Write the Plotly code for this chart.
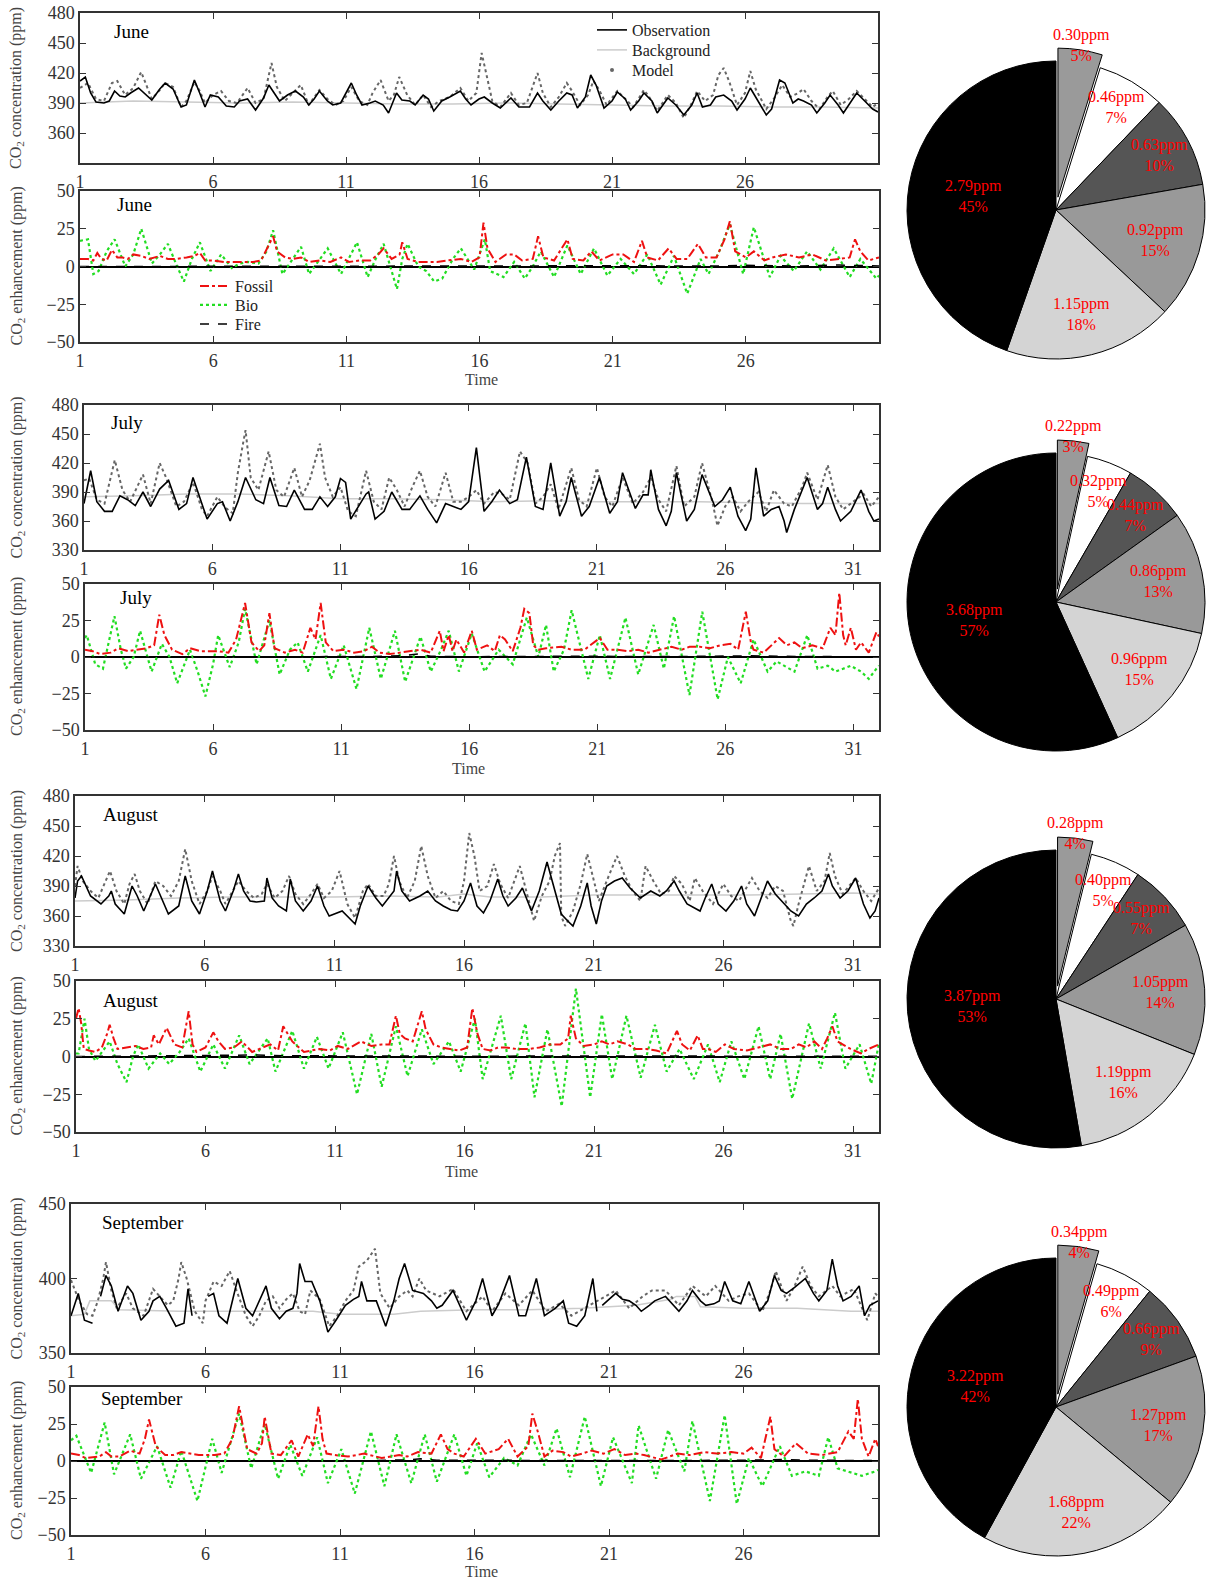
import math
import plotly.graph_objects as go

W, H = 1207, 1583
FONT = "Liberation Serif"

# ---------------- data: [day, value] pairs ----------------
june_obs = [[1.0,412],[1.2,416],[1.4,400],[1.6,391],[1.9,390],[2.1,392],[2.3,402],[2.5,397],[2.7,396],[2.9,400],[3.2,405],[3.5,398],[3.7,393],[4.0,404],[4.2,410],[4.5,404],[4.8,386],[5.0,388],[5.3,413],[5.5,400],[5.7,386],[5.9,398],[6.2,396],[6.5,387],[6.8,386],[7.0,392],[7.3,394],[7.6,383],[7.9,395],[8.1,408],[8.3,400],[8.5,392],[8.8,398],[9.1,402],[9.4,396],[9.6,388],[9.8,394],[10.0,402],[10.3,392],[10.5,388],[10.8,390],[11.2,410],[11.4,398],[11.6,388],[11.9,390],[12.1,392],[12.4,388],[12.6,380],[12.9,400],[13.1,393],[13.4,392],[13.6,388],[13.9,398],[14.1,394],[14.3,382],[14.6,392],[14.9,396],[15.3,402],[15.5,394],[15.7,388],[16.0,394],[16.2,396],[16.5,390],[16.8,385],[17.2,395],[17.5,386],[17.9,386],[18.2,400],[18.4,392],[18.7,383],[19.0,392],[19.3,400],[19.5,398],[19.7,385],[20.0,396],[20.2,418],[20.4,408],[20.7,385],[21.0,392],[21.2,401],[21.5,394],[21.7,383],[22.0,392],[22.2,400],[22.5,392],[22.7,380],[23.1,395],[23.4,388],[23.7,378],[24.0,388],[24.2,400],[24.4,386],[24.7,388],[24.9,396],[25.2,398],[25.5,392],[25.7,383],[26.0,394],[26.2,405],[26.5,392],[26.8,378],[27.0,384],[27.3,413],[27.5,410],[27.8,390],[28.0,394],[28.2,392],[28.5,388],[28.7,380],[29.0,390],[29.2,398],[29.5,388],[29.7,380],[30.0,392],[30.2,400],[30.5,392],[30.8,384],[31.0,381]]
june_mod = [[1.0,405],[1.3,410],[1.6,394],[1.9,392],[2.2,410],[2.4,412],[2.7,398],[3.0,405],[3.3,421],[3.5,408],[3.7,394],[4.0,403],[4.2,410],[4.5,406],[4.8,386],[5.0,392],[5.3,411],[5.5,402],[5.7,390],[6.0,398],[6.3,402],[6.6,392],[6.9,390],[7.3,405],[7.6,390],[7.9,394],[8.1,418],[8.2,430],[8.4,406],[8.7,392],[9.0,400],[9.3,408],[9.6,388],[9.8,396],[10.0,403],[10.3,394],[10.6,388],[10.9,392],[11.2,406],[11.5,392],[11.8,388],[12.0,400],[12.3,413],[12.6,392],[12.8,398],[13.0,416],[13.3,398],[13.6,388],[13.9,398],[14.2,386],[14.5,392],[14.9,396],[15.3,405],[15.6,392],[15.9,400],[16.1,440],[16.3,415],[16.5,392],[16.8,386],[17.2,400],[17.5,388],[17.8,390],[18.2,420],[18.4,400],[18.7,386],[19.0,396],[19.3,410],[19.5,402],[19.8,388],[20.1,398],[20.3,412],[20.5,404],[20.8,388],[21.2,402],[21.5,394],[21.8,386],[22.2,403],[22.4,396],[22.7,382],[23.1,398],[23.4,390],[23.7,375],[24.0,390],[24.2,402],[24.5,392],[24.8,398],[25.0,418],[25.2,425],[25.4,412],[25.7,388],[26.0,400],[26.2,422],[26.4,404],[26.8,384],[27.1,395],[27.4,408],[27.7,396],[28.0,400],[28.2,404],[28.5,392],[28.8,384],[29.1,396],[29.3,402],[29.6,388],[29.9,394],[30.2,402],[30.5,394],[30.8,386],[31.0,390]]
june_bg = [[1,390],[3,392],[5,391],[7,390],[9,391],[11,390],[13,389],[15,389],[17,390],[19,389],[21,388],[23,387],[25,387],[27,386],[29,386],[31,385]]
june_fos = [[1.0,5],[1.3,5],[1.5,4],[1.65,9],[1.8,5],[2.0,4],[2.2,11],[2.4,6],[2.6,6],[2.8,5],[3.0,8],[3.3,7],[3.6,5],[4.0,7],[4.3,5],[4.6,5],[5.0,6],[5.3,7],[5.5,9],[5.7,4],[6.0,4],[6.4,3],[6.8,3],[7.2,3],[7.5,3],[7.8,4],[8.1,14],[8.25,20],[8.4,10],[8.7,6],[9.0,5],[9.3,6],[9.6,3],[10.0,4],[10.4,3],[10.8,6],[11.1,3],[11.5,4],[11.9,4],[12.2,8],[12.4,12],[12.7,5],[13.0,8],[13.1,16],[13.3,5],[13.7,3],[14.0,3],[14.4,3],[14.8,4],[15.3,5],[15.7,3],[16.0,6],[16.15,29],[16.3,12],[16.6,3],[17.0,8],[17.3,8],[17.6,4],[18.0,5],[18.2,20],[18.4,6],[18.8,4],[19.3,18],[19.5,5],[19.9,4],[20.2,10],[20.5,4],[21.0,8],[21.4,8],[21.8,3],[22.1,17],[22.3,6],[22.7,4],[23.1,12],[23.4,5],[23.8,5],[24.2,15],[24.5,6],[24.9,6],[25.2,18],[25.4,30],[25.6,10],[26.0,6],[26.3,10],[26.7,4],[27.0,6],[27.5,8],[28.0,6],[28.5,8],[29.0,4],[29.5,5],[29.9,6],[30.1,18],[30.3,10],[30.6,4],[31.0,6]]
june_bio = [[1.0,17],[1.3,18],[1.5,-5],[1.7,-3],[2.0,10],[2.3,18],[2.7,0],[3.0,8],[3.3,25],[3.7,2],[4.0,8],[4.3,15],[4.6,2],[4.9,-10],[5.2,5],[5.5,16],[5.9,-3],[6.3,8],[6.7,-1],[7.0,2],[7.3,3],[7.7,2],[8.0,10],[8.25,24],[8.6,-5],[8.9,3],[9.3,13],[9.6,-5],[10.0,5],[10.3,12],[10.8,-5],[11.1,5],[11.4,16],[11.8,-7],[12.1,5],[12.4,15],[12.9,-15],[13.1,5],[13.3,15],[13.7,0],[14.0,-3],[14.3,-10],[14.6,-8],[15.0,5],[15.3,12],[15.8,-2],[16.2,18],[16.4,-3],[16.9,-7],[17.3,3],[17.7,-8],[18.0,0],[18.3,10],[18.8,-7],[19.3,14],[19.8,-5],[20.3,12],[20.8,-6],[21.3,5],[21.8,-5],[22.3,8],[22.8,-12],[23.3,7],[23.8,-18],[24.3,5],[24.6,-5],[25.0,10],[25.4,28],[25.9,-5],[26.3,26],[26.9,-7],[27.3,7],[27.8,-3],[28.3,10],[28.8,-2],[29.3,12],[29.9,-7],[30.3,5],[30.9,-8],[31.0,-6]]
june_fire = [[1,0],[5,0.3],[10,0.2],[15,0.3],[20,0.8],[21,0.5],[25,0.3],[26,0.8],[28,0.3],[29.5,1],[31,0.3]]

july_obs = [[1.0,378],[1.15,400],[1.26,412],[1.5,380],[1.8,370],[2.1,370],[2.4,386],[2.7,382],[3.0,376],[3.3,390],[3.6,375],[3.95,393],[4.3,402],[4.7,372],[5.0,378],[5.25,405],[5.5,385],[5.8,362],[6.2,378],[6.4,380],[6.7,360],[7.0,380],[7.3,405],[7.7,382],[8.0,378],[8.25,405],[8.6,376],[8.9,375],[9.2,392],[9.6,372],[9.9,372],[10.2,385],[10.5,375],[10.8,385],[11.0,404],[11.2,400],[11.4,362],[11.7,375],[12.0,388],[12.1,390],[12.35,362],[12.7,370],[13.0,390],[13.4,372],[13.7,372],[14.1,386],[14.4,372],[14.75,358],[15.1,378],[15.4,375],[15.7,372],[16.0,380],[16.3,436],[16.6,370],[16.9,380],[17.2,392],[17.6,378],[17.9,382],[18.25,426],[18.6,375],[18.9,372],[19.2,420],[19.55,365],[19.8,380],[20.0,405],[20.4,365],[20.7,375],[21.1,405],[21.5,368],[21.8,380],[22.0,410],[22.5,373],[22.8,387],[23.0,387],[23.1,413],[23.4,372],[23.7,355],[23.9,370],[24.1,410],[24.5,360],[24.8,372],[25.1,408],[25.6,375],[25.9,382],[26.2,395],[26.5,365],[26.8,350],[27.0,362],[27.2,415],[27.5,365],[27.8,372],[28.1,375],[28.3,360],[28.4,348],[28.7,372],[29.2,405],[29.6,372],[29.8,378],[30.0,395],[30.3,372],[30.5,360],[30.9,370],[31.3,392],[31.6,370],[31.8,360],[32.0,362]]
july_mod = [[1.0,402],[1.2,404],[1.5,382],[1.8,378],[2.2,423],[2.5,392],[2.8,380],[3.1,396],[3.3,408],[3.6,378],[3.95,420],[4.2,405],[4.6,375],[4.9,380],[5.25,400],[5.6,372],[5.8,365],[6.2,385],[6.5,374],[6.8,368],[7.0,410],[7.2,440],[7.3,454],[7.5,405],[7.8,392],[8.2,432],[8.5,392],[8.8,385],[9.2,415],[9.5,385],[9.8,402],[10.2,440],[10.4,405],[10.7,385],[11.0,395],[11.3,370],[11.6,365],[12.0,412],[12.3,380],[12.6,372],[12.9,405],[13.2,392],[13.5,375],[13.8,395],[14.1,412],[14.4,385],[14.7,375],[15.1,410],[15.4,380],[15.7,380],[16.0,385],[16.3,392],[16.6,378],[17.0,390],[17.3,388],[17.6,382],[18.0,432],[18.3,420],[18.6,378],[18.9,385],[19.2,398],[19.5,372],[20.0,415],[20.3,382],[20.6,375],[21.0,415],[21.3,385],[21.6,375],[22.0,405],[22.4,378],[22.8,390],[23.1,405],[23.4,382],[23.7,370],[24.1,417],[24.4,375],[24.8,385],[25.1,420],[25.5,380],[25.7,355],[26.0,375],[26.3,385],[26.6,370],[26.9,380],[27.3,390],[27.6,370],[27.9,392],[28.3,378],[28.6,375],[29.0,395],[29.2,410],[29.6,382],[30.0,418],[30.3,385],[30.6,372],[31.0,380],[31.4,388],[31.7,375],[32.0,385]]
july_bg = [[1,385],[3,386],[5,388],[7,388],[9,386],[11,383],[13,383],[15,382],[17,380],[19,381],[21,380],[23,380],[25,380],[27,379],[29,378],[31,378],[32,378]]
july_fos = [[1.0,5],[1.3,4],[1.6,2],[2.0,3],[2.3,6],[2.7,4],[3.0,5],[3.4,6],[3.7,8],[3.9,29],[4.1,15],[4.4,5],[4.8,2],[5.1,6],[5.5,4],[5.9,4],[6.2,4],[6.6,3],[6.9,12],[7.25,37],[7.5,10],[7.8,4],[8.0,8],[8.2,30],[8.4,6],[8.8,3],[9.2,5],[9.5,3],[9.8,20],[10.0,12],[10.2,37],[10.4,10],[10.7,4],[11.1,5],[11.5,3],[11.9,4],[12.2,7],[12.5,3],[12.9,2],[13.3,3],[13.7,4],[14.1,5],[14.5,3],[14.85,18],[15.0,4],[15.2,15],[15.35,4],[15.5,12],[15.8,3],[16.1,18],[16.3,5],[16.7,8],[17.0,4],[17.2,15],[17.4,12],[17.7,4],[18.0,20],[18.15,33],[18.35,30],[18.5,8],[18.7,5],[19.0,6],[19.6,7],[20.0,5],[20.5,5],[21.1,13],[21.4,5],[21.8,5],[22.2,4],[22.6,5],[23.0,3],[23.5,5],[23.9,7],[24.3,5],[24.6,7],[25.0,7],[25.4,6],[25.8,8],[26.2,9],[26.5,5],[26.8,31],[27.0,10],[27.1,5],[27.5,3],[27.8,8],[28.1,13],[28.4,8],[28.7,10],[29.0,6],[29.4,8],[29.8,6],[30.1,20],[30.3,15],[30.45,44],[30.6,15],[30.7,8],[30.9,20],[31.1,5],[31.3,10],[31.6,3],[31.9,17],[32.0,14]]
july_bio = [[1.0,13],[1.07,15],[1.4,-5],[1.7,-8],[2.15,28],[2.4,5],[2.6,-8],[2.9,0],[3.15,18],[3.6,-10],[4.0,9],[4.3,0],[4.6,-18],[4.9,-5],[5.1,5],[5.4,-10],[5.7,-27],[6.0,-5],[6.2,15],[6.65,-7],[7.0,10],[7.25,33],[7.7,-5],[8.2,25],[8.6,-12],[9.0,5],[9.3,10],[9.7,-10],[10.2,15],[10.6,-15],[11.1,8],[11.6,-22],[12.1,20],[12.55,-15],[13.1,18],[13.5,-17],[14.1,14],[14.5,-10],[14.9,5],[15.2,18],[15.6,-10],[16.1,16],[16.6,-10],[17.15,5],[17.7,-5],[18.25,27],[18.7,0],[19.0,22],[19.3,-10],[19.7,5],[20.0,32],[20.65,-15],[21.1,15],[21.5,-15],[22.1,27],[22.6,-12],[23.2,22],[23.6,-8],[24.0,28],[24.6,-26],[25.1,31],[25.7,-29],[26.1,0],[26.6,-18],[27.1,12],[27.65,-10],[28.0,-3],[28.2,-5],[28.7,-10],[29.2,15],[29.6,-8],[30.0,-6],[30.3,-10],[30.6,-8],[30.9,-6],[31.3,-10],[31.6,-15],[31.9,-8],[32.0,-6]]
july_fire = [[1,0],[5,0.2],[9,0.5],[12,0.3],[13.5,1],[14,2],[14.5,0.5],[16,0.2],[20,0.5],[24,0.3],[27,0.8],[29,0.3],[32,0.2]]

aug_obs = [[1.0,378],[1.1,395],[1.25,400],[1.6,380],[2.0,372],[2.3,380],[2.4,385],[2.55,372],[2.9,362],[3.2,390],[3.4,380],[3.65,365],[4.1,392],[4.3,380],[4.6,362],[5.0,370],[5.25,400],[5.5,375],[5.8,362],[6.1,385],[6.3,405],[6.6,375],[6.8,365],[7.1,385],[7.3,402],[7.5,385],[7.75,375],[8.0,374],[8.3,375],[8.4,398],[8.6,378],[8.85,370],[9.15,365],[9.3,397],[9.5,375],[9.8,365],[10.1,375],[10.35,390],[10.6,370],[10.8,360],[11.3,365],[11.8,352],[12.0,370],[12.3,390],[12.6,378],[12.85,370],[13.1,378],[13.3,385],[13.4,405],[13.6,385],[13.9,375],[14.3,380],[14.6,385],[14.9,375],[15.2,370],[15.5,366],[15.75,365],[16.0,375],[16.25,393],[16.5,370],[16.75,363],[17.0,375],[17.3,397],[17.5,380],[17.7,370],[18.0,378],[18.25,388],[18.6,365],[18.9,385],[19.2,414],[19.4,395],[19.75,362],[20.0,355],[20.2,350],[20.5,370],[20.75,393],[20.9,370],[21.1,352],[21.3,375],[21.5,390],[21.8,395],[22.1,398],[22.4,388],[22.8,378],[23.2,385],[23.55,380],[23.8,385],[24.1,395],[24.3,385],[24.6,372],[25.1,365],[25.3,378],[25.55,392],[25.8,372],[26.1,365],[26.4,375],[26.7,390],[26.9,372],[27.2,360],[27.5,380],[27.7,395],[28.0,382],[28.25,375],[28.6,365],[28.9,360],[29.2,372],[29.5,378],[29.8,385],[30.05,402],[30.2,390],[30.5,378],[30.8,385],[31.1,398],[31.4,372],[31.65,358],[31.85,365],[32.0,378]]
aug_mod = [[1.0,390],[1.1,410],[1.3,395],[1.6,385],[1.9,378],[2.2,395],[2.35,405],[2.6,385],[2.9,372],[3.1,392],[3.3,402],[3.5,385],[3.8,372],[4.1,395],[4.4,390],[4.7,380],[5.0,395],[5.25,427],[5.5,395],[5.8,372],[6.1,385],[6.3,400],[6.6,385],[6.8,372],[7.1,385],[7.3,395],[7.6,385],[7.9,378],[8.2,382],[8.4,392],[8.7,378],[9.0,385],[9.25,400],[9.5,382],[9.8,372],[10.1,382],[10.35,392],[10.6,378],[10.9,385],[11.2,405],[11.5,372],[11.8,358],[12.1,385],[12.3,392],[12.6,380],[12.9,380],[13.1,392],[13.3,420],[13.5,395],[13.8,378],[14.1,395],[14.35,430],[14.6,400],[14.9,378],[15.2,385],[15.5,375],[15.8,372],[16.0,395],[16.2,443],[16.4,420],[16.6,385],[16.9,390],[17.15,412],[17.4,392],[17.7,378],[17.9,392],[18.15,410],[18.4,385],[18.7,355],[19.0,380],[19.3,395],[19.5,420],[19.7,433],[19.75,360],[19.9,350],[20.2,365],[20.5,392],[20.75,422],[21.0,395],[21.2,375],[21.5,395],[21.9,420],[22.2,400],[22.5,385],[22.8,375],[23.0,410],[23.3,395],[23.6,382],[23.9,385],[24.1,400],[24.4,392],[24.7,375],[24.9,398],[25.2,385],[25.6,372],[26.0,392],[26.3,380],[26.6,375],[27.1,398],[27.4,385],[27.7,378],[28.0,390],[28.3,385],[28.6,355],[28.7,350],[28.9,372],[29.3,410],[29.6,385],[29.9,395],[30.1,423],[30.3,400],[30.6,382],[31.1,398],[31.4,385],[31.7,375],[32.0,388]]
aug_bg = [[1,375],[3,376],[5,378],[7,379],[9,379],[11,379],[13,380],[15,379],[16,382],[17,379],[19,379],[21,381],[23,381],[25,381],[27,381],[29,382],[31,383],[32,382]]
aug_fos = [[1.0,25],[1.1,32],[1.2,22],[1.3,5],[1.5,4],[1.75,3],[2.0,6],[2.2,15],[2.3,21],[2.45,12],[2.6,5],[2.9,6],[3.3,7],[3.6,5],[3.9,6],[4.0,14],[4.2,8],[4.5,19],[4.8,8],[5.1,6],[5.35,30],[5.5,8],[5.65,3],[6.0,6],[6.3,16],[6.5,10],[6.75,5],[7.1,6],[7.4,10],[7.8,3],[8.1,5],[8.5,8],[8.8,4],[9.0,20],[9.35,10],[9.8,3],[10.1,4],[10.4,5],[10.8,4],[11.1,7],[11.5,5],[12.0,10],[12.4,7],[12.8,8],[13.1,8],[13.35,27],[13.5,15],[13.7,12],[14.0,10],[14.35,30],[14.5,18],[14.8,8],[15.1,6],[15.4,5],[15.8,4],[16.1,6],[16.3,32],[16.5,15],[16.7,5],[17.0,4],[17.3,6],[17.6,6],[18.0,5],[18.5,5],[18.9,6],[19.3,8],[19.7,8],[20.0,12],[20.1,27],[20.3,12],[20.6,7],[21.0,8],[21.3,10],[21.6,8],[21.9,10],[22.3,8],[22.6,5],[23.0,5],[23.4,4],[23.8,2],[24.2,17],[24.4,8],[24.7,4],[25.0,14],[25.2,5],[25.4,5],[25.7,3],[26.05,8],[26.4,5],[26.9,4],[27.3,6],[27.8,8],[28.2,5],[28.6,5],[28.9,8],[29.2,6],[29.5,10],[29.8,5],[30.0,12],[30.2,20],[30.4,10],[30.6,8],[30.9,5],[31.3,2],[31.6,5],[32.0,8]]
aug_bio = [[1.0,2],[1.1,2],[1.33,25],[1.5,5],[1.75,-3],[2.0,3],[2.3,10],[2.6,-5],[2.95,-17],[3.2,0],[3.4,8],[3.8,-8],[4.25,2],[4.6,-5],[5.0,3],[5.35,12],[5.8,-10],[6.3,8],[6.75,-8],[7.3,14],[7.7,-5],[8.4,12],[8.7,-10],[9.35,17],[9.8,-8],[10.3,13],[10.75,-8],[11.3,16],[11.85,-25],[12.4,15],[12.8,-20],[13.35,20],[13.8,-13],[14.35,18],[14.8,-5],[15.4,10],[15.85,-10],[16.4,25],[16.7,-15],[17.4,27],[17.8,-15],[18.35,22],[18.7,-27],[19.2,18],[19.75,-33],[20.3,45],[20.85,-27],[21.3,28],[21.7,-15],[22.25,27],[22.8,-14],[23.35,21],[23.8,-10],[24.3,5],[24.85,-15],[25.4,8],[25.85,-17],[26.3,10],[26.8,-15],[27.35,20],[27.8,-15],[28.2,15],[28.65,-28],[29.3,22],[29.75,-8],[30.3,29],[30.7,-8],[31.25,8],[31.7,-18],[32.0,9]]
aug_fire = [[1,0],[4,0.3],[7,0.5],[8,1],[9,0.5],[12,0.3],[16,0.2],[20,0.3],[24,0.2],[28,0.3],[32,0.2]]

sep_obs = [[1.0,375],[1.27,390],[1.5,372],[1.8,370],[None,None],[2.1,388],[2.3,402],[2.5,395],[2.75,378],[3.1,395],[3.3,390],[3.6,372],[3.9,378],[4.05,385],[4.3,388],[4.55,380],[4.9,368],[5.2,370],[5.35,393],[5.5,375],[None,None],[6.1,388],[6.3,390],[6.5,375],[6.8,370],[7.2,400],[7.5,380],[7.75,375],[8.0,385],[8.25,395],[8.45,380],[8.75,373],[9.0,378],[9.25,380],[9.4,390],[9.5,410],[9.7,398],[9.95,398],[10.25,385],[10.55,364],[10.85,372],[11.2,382],[11.5,386],[11.7,388],[11.8,398],[12.0,385],[12.35,385],[12.7,368],[13.0,385],[13.2,400],[13.4,410],[13.7,392],[14.1,390],[14.4,385],[14.6,380],[14.8,382],[15.2,392],[15.7,372],[16.05,385],[16.3,400],[16.65,375],[16.9,383],[17.3,402],[17.65,375],[17.9,375],[18.3,400],[18.6,375],[19.0,380],[19.3,385],[19.5,370],[19.8,368],[20.1,375],[20.4,400],[20.55,378],[None,None],[20.75,382],[21.0,386],[21.25,390],[21.5,386],[21.75,385],[22.0,382],[22.2,378],[22.5,382],[22.7,385],[23.1,388],[23.4,382],[23.6,378],[23.9,385],[24.1,392],[24.4,385],[24.6,382],[24.9,383],[25.1,385],[25.3,398],[25.6,385],[25.9,383],[26.2,398],[26.6,378],[26.9,385],[27.15,402],[27.4,392],[27.6,390],[27.9,394],[28.3,400],[28.6,390],[28.8,385],[29.1,392],[29.3,413],[29.5,395],[29.7,385],[30.0,388],[30.3,395],[30.5,375],[30.7,382],[31.0,385]]
sep_mod = [[1.0,399],[1.3,385],[1.6,376],[1.8,375],[2.0,385],[2.2,400],[2.3,411],[2.5,392],[2.7,380],[3.05,390],[3.3,380],[3.7,375],[4.05,393],[4.3,388],[4.6,382],[4.8,385],[5.0,400],[5.1,411],[5.3,400],[5.6,378],[5.9,370],[6.0,385],[6.3,398],[6.6,395],[6.9,405],[7.15,392],[7.5,375],[7.75,368],[8.0,375],[8.25,385],[8.5,388],[8.75,380],[9.0,386],[9.25,390],[9.5,378],[9.7,376],[9.9,392],[10.25,386],[10.6,368],[10.9,375],[11.2,385],[11.5,392],[11.7,408],[12.0,412],[12.3,420],[12.5,390],[12.85,380],[13.2,388],[13.5,392],[13.7,388],[13.95,400],[14.2,392],[14.45,390],[14.7,388],[15.2,393],[15.7,378],[16.0,383],[16.3,388],[16.65,378],[17.15,390],[17.65,382],[18.15,392],[18.65,378],[19.15,383],[19.6,375],[20.1,380],[20.6,385],[20.9,388],[21.25,392],[21.75,380],[22.25,388],[22.6,392],[23.1,392],[23.6,382],[24.1,395],[24.6,388],[24.95,395],[25.45,385],[25.8,388],[26.2,390],[26.7,378],[27.0,392],[27.2,405],[27.6,385],[27.9,395],[28.2,408],[28.5,395],[28.8,388],[29.3,395],[29.6,388],[30.1,393],[30.6,372],[30.9,390],[31.0,388]]
sep_bg = [[1,375],[1.5,376],[1.7,385],[2.5,385],[2.8,379],[5,378],[8,378],[10,378],[11,376],[13,376],[14,378],[16,379],[18,379],[20,380],[22,382],[23.3,386],[23.5,388],[24.2,388],[24.4,381],[26,380],[28,380],[30,378],[31,378]]
sep_fos = [[1.0,5],[1.3,4],[1.55,2],[2.05,3],[2.3,6],[2.5,3],[2.8,3],[3.2,7],[3.55,5],[3.75,15],[3.9,28],[4.15,10],[4.5,4],[4.8,4],[5.1,6],[5.4,5],[5.75,4],[6.0,4],[6.35,4],[6.7,5],[7.0,15],[7.25,37],[7.55,8],[7.9,5],[8.1,12],[8.2,30],[8.45,5],[8.8,4],[9.2,14],[9.45,3],[9.8,18],[10.0,10],[10.2,37],[10.35,15],[10.5,5],[10.8,4],[11.3,3],[11.9,5],[12.3,3],[12.55,2],[13.2,4],[13.5,3],[13.9,6],[14.4,5],[14.75,18],[15.0,8],[15.25,5],[15.6,3],[16.05,15],[16.4,5],[16.9,8],[17.25,15],[17.6,3],[18.0,10],[18.15,32],[18.35,20],[18.6,3],[18.9,7],[19.3,6],[19.6,3],[20.0,5],[20.35,7],[20.8,5],[21.2,8],[21.6,4],[22.0,5],[22.3,4],[22.95,1],[23.55,5],[24.0,4],[24.55,6],[25.0,5],[25.55,6],[26.0,5],[26.3,9],[26.65,2],[27.0,30],[27.15,8],[27.5,3],[27.95,12],[28.4,5],[28.9,4],[29.5,6],[29.9,20],[30.1,15],[30.25,42],[30.4,15],[30.65,3],[30.9,15],[31.0,10]]
sep_bio = [[1.0,14],[1.2,17],[1.75,-8],[2.25,26],[2.6,-9],[3.2,18],[3.6,-12],[4.2,10],[4.7,-18],[5.1,7],[5.7,-27],[6.25,15],[6.6,-8],[7.25,32],[7.7,-5],[8.2,25],[8.7,-12],[9.15,11],[9.6,-10],[10.15,16],[10.55,-15],[11.05,8],[11.55,-22],[12.15,20],[12.65,-17],[13.1,18],[13.65,-15],[14.15,18],[14.6,-14],[15.25,18],[15.7,-10],[16.1,12],[16.55,-11],[17.1,2],[17.6,-3],[18.1,18],[18.6,-3],[19.05,22],[19.55,-11],[20.1,30],[20.7,-17],[21.15,16],[21.85,-15],[22.1,24],[22.75,-12],[23.2,21],[23.8,-7],[24.1,27],[24.75,-27],[25.3,31],[25.75,-29],[26.2,2],[26.7,-17],[27.35,10],[27.8,-10],[28.3,-7],[28.8,-10],[29.15,16],[29.5,-5],[30.0,-8],[30.4,-10],[30.9,-7],[31.0,-6]]
sep_fire = [[1,0],[5,0.2],[9,0.3],[12,0.2],[13.5,0.8],[14,1.5],[14.6,0.5],[18,0.3],[22,0.3],[26,0.5],[27.5,1],[28.5,0.5],[31,0.3]]

# pie values (ppm), clockwise from 12 o'clock
pie_june = [0.30, 0.46, 0.63, 0.92, 1.15, 2.79]
pie_july = [0.22, 0.32, 0.44, 0.86, 0.96, 3.68]
pie_aug = [0.28, 0.40, 0.55, 1.05, 1.19, 3.87]
pie_sep = [0.34, 0.49, 0.66, 1.27, 1.68, 3.22]

month_names = ["June", "July", "August", "September"]
day_ticks = [1, 6, 11, 16, 21, 26, 31]
conc_ticks_june = [360, 390, 420, 450, 480]
conc_ticks_jul_aug = [330, 360, 390, 420, 450, 480]
conc_ticks_sep = [350, 400, 450]
enh_ticks = [-50, -25, 0, 25, 50]

# ---------------- styling / geometry (pixels) ----------------
months = [
    dict(name="June", obs=june_obs, mod=june_mod, bg=june_bg, fos=june_fos, bio=june_bio, fire=june_fire,
         xmax=31, crange=[330, 480], cticks=conc_ticks_june, pie=pie_june,
         cx=(80, 878), cy=(13, 163), ex=(80, 879), ey=(191, 342), time=(481, 379),
         lc=(112, 32), le=(115, 205), piey=210),
    dict(name="July", obs=july_obs, mod=july_mod, bg=july_bg, fos=july_fos, bio=july_bio, fire=july_fire,
         xmax=32, crange=[330, 480], cticks=conc_ticks_jul_aug, pie=pie_july,
         cx=(84, 879), cy=(405, 550), ex=(85, 879), ey=(584, 730), time=(468, 768),
         lc=(109, 422), le=(118, 598), piey=602),
    dict(name="August", obs=aug_obs, mod=aug_mod, bg=aug_bg, fos=aug_fos, bio=aug_bio, fire=aug_fire,
         xmax=32, crange=[330, 480], cticks=conc_ticks_jul_aug, pie=pie_aug,
         cx=(75, 879), cy=(796, 946), ex=(76, 879), ey=(981, 1132), time=(461, 1171),
         lc=(101, 814), le=(101, 1000), piey=999),
    dict(name="September", obs=sep_obs, mod=sep_mod, bg=sep_bg, fos=sep_fos, bio=sep_bio, fire=sep_fire,
         xmax=31, crange=[350, 450], cticks=conc_ticks_sep, pie=pie_sep,
         cx=(71, 878), cy=(1204, 1353), ex=(71, 878), ey=(1387, 1535), time=(481, 1571),
         lc=(100, 1222), le=(99, 1398), piey=1407),
]


def px_x(v):
    return v / W


def px_y(v):
    return 1 - v / H


def split(pairs):
    return [p[0] for p in pairs], [p[1] for p in pairs]


axis_font = dict(family=FONT, size=18, color="#333")
axis_common = dict(showline=True, linecolor="#333", linewidth=1.5, mirror="ticks", ticks="inside",
                   ticklen=6, tickwidth=1.2, tickcolor="#333", showgrid=False, zeroline=False,
                   tickfont=axis_font, automargin=False)

RED = "#ee1111"
GREEN = "#22dd22"

fig = go.Figure()
layout = {}
ann = []

for i, m in enumerate(months):
    ci, ei = 2 * i + 1, 2 * i + 2
    xc = "x" if ci == 1 else f"x{ci}"
    yc = "y" if ci == 1 else f"y{ci}"
    xe, ye = f"x{ei}", f"y{ei}"
    first = (i == 0)
    ticks = [t for t in day_ticks if t < m["xmax"]]

    layout["xaxis" if ci == 1 else f"xaxis{ci}"] = dict(
        axis_common, domain=[px_x(m["cx"][0]), px_x(m["cx"][1])], anchor=yc,
        range=[1, m["xmax"]], tickvals=ticks, ticklabelstandoff=2)
    layout["yaxis" if ci == 1 else f"yaxis{ci}"] = dict(
        axis_common, domain=[px_y(m["cy"][1]), px_y(m["cy"][0])], anchor=xc,
        range=m["crange"], tickvals=m["cticks"])
    layout[f"xaxis{ei}"] = dict(
        axis_common, domain=[px_x(m["ex"][0]), px_x(m["ex"][1])], anchor=ye,
        range=[1, m["xmax"]], tickvals=ticks, ticklabelstandoff=2)
    layout[f"yaxis{ei}"] = dict(
        axis_common, domain=[px_y(m["ey"][1]), px_y(m["ey"][0])], anchor=xe,
        range=[-50, 50], tickvals=enh_ticks, zeroline=True, zerolinecolor="black", zerolinewidth=1.8)

    # concentration panel
    x, y = split(m["bg"])
    fig.add_trace(go.Scatter(x=x, y=y, mode="lines", line=dict(color="#cccccc", width=1.5),
                             name="Background", showlegend=first, legend="legend2", xaxis=xc, yaxis=yc,
                             hoverinfo="skip"))
    x, y = split(m["mod"])
    fig.add_trace(go.Scatter(x=x, y=y, mode="lines", line=dict(color="#666666", width=2, dash="dot"),
                             name="Model", showlegend=False, xaxis=xc, yaxis=yc, hoverinfo="skip"))
    x, y = split(m["obs"])
    fig.add_trace(go.Scatter(x=x, y=y, mode="lines", line=dict(color="black", width=1.6),
                             name="Observation", showlegend=first, legend="legend", xaxis=xc, yaxis=yc,
                             hoverinfo="skip"))
    if first:
        fig.add_trace(go.Scatter(x=[None], y=[None], mode="markers",
                                 marker=dict(color="#666666", size=4), name="Model",
                                 legend="legend3", xaxis=xc, yaxis=yc))

    # enhancement panel
    x, y = split(m["bio"])
    fig.add_trace(go.Scatter(x=x, y=y, mode="lines", line=dict(color=GREEN, width=2.2, dash="dot"),
                             name="Bio", showlegend=first, legend="legend5",
                             xaxis=xe, yaxis=ye, hoverinfo="skip"))
    x, y = split(m["fos"])
    fig.add_trace(go.Scatter(x=x, y=y, mode="lines", line=dict(color=RED, width=2, dash="dashdot"),
                             name="Fossil", showlegend=first, legend="legend4",
                             xaxis=xe, yaxis=ye, hoverinfo="skip"))
    x, y = split(m["fire"])
    fig.add_trace(go.Scatter(x=x, y=y, mode="lines", line=dict(color="black", width=1.5, dash="dash"),
                             name="Fire", showlegend=first, legend="legend6",
                             xaxis=xe, yaxis=ye, hoverinfo="skip"))

    # text
    title_font = dict(family=FONT, size=16, color="#444")
    ann.append(dict(text="CO<sub>2</sub> concentration (ppm)", x=px_x(17), y=px_y(sum(m["cy"]) / 2),
                    xref="paper", yref="paper", textangle=-90, showarrow=False, font=title_font,
                    xanchor="center", yanchor="middle"))
    ann.append(dict(text="CO<sub>2</sub> enhancement (ppm)", x=px_x(17), y=px_y(sum(m["ey"]) / 2),
                    xref="paper", yref="paper", textangle=-90, showarrow=False, font=title_font,
                    xanchor="center", yanchor="middle"))
    ann.append(dict(text="Time", x=px_x(m["time"][0]), y=px_y(m["time"][1]), xref="paper", yref="paper",
                    showarrow=False, font=title_font, xanchor="center", yanchor="middle"))
    mfont = dict(family=FONT, size=19, color="black")
    ann.append(dict(text=m["name"], x=px_x(m["lc"][0]), y=px_y(m["lc"][1]), xref="paper", yref="paper",
                    showarrow=False, font=mfont, xanchor="left", yanchor="middle"))
    ann.append(dict(text=m["name"], x=px_x(m["le"][0]), y=px_y(m["le"][1]), xref="paper", yref="paper",
                    showarrow=False, font=mfont, xanchor="left", yanchor="middle"))

    # pie
    vals = m["pie"]
    tot = sum(vals)
    pcx, pcy, R = 1056, m["piey"], 149
    colors = ["#9a9a9a", "white", "#555555", "#999999", "#d4d4d4", "black"]
    clear = "rgba(0,0,0,0)"
    fig.add_trace(go.Pie(values=vals, sort=False, direction="clockwise", rotation=0,
                         domain=dict(x=[px_x(pcx - R), px_x(pcx + R)], y=[px_y(pcy + R), px_y(pcy - R)]),
                         marker=dict(colors=[clear] + colors[1:], line=dict(color="black", width=[0, 1, 1, 1, 1, 1])),
                         textinfo="none", hoverinfo="skip", showlegend=False))
    mid0 = math.radians(360 * vals[0] / tot / 2)
    dxp, dyp = 13 * math.sin(mid0), -13 * math.cos(mid0)
    fig.add_trace(go.Pie(values=vals, sort=False, direction="clockwise", rotation=0,
                         domain=dict(x=[px_x(pcx - R + dxp), px_x(pcx + R + dxp)],
                                     y=[px_y(pcy + R + dyp), px_y(pcy - R + dyp)]),
                         marker=dict(colors=[colors[0]] + [clear] * 5,
                                     line=dict(color="black", width=[1, 0, 0, 0, 0, 0])),
                         textinfo="none", hoverinfo="skip", showlegend=False))
    radii = [1.12, 0.80, 0.79, 0.70, 0.72, 0.56]
    cum = 0
    for k, v in enumerate(vals):
        th = math.radians(360 * (cum + v / 2) / tot)
        cum += v
        lx = pcx + radii[k] * R * math.sin(th)
        ly = pcy - radii[k] * R * math.cos(th)
        ann.append(dict(text=f"{v:.2f}ppm<br>{round(100 * v / tot)}%", x=px_x(lx), y=px_y(ly),
                        xref="paper", yref="paper", showarrow=False,
                        font=dict(family=FONT, size=16, color="#ff0000"),
                        xanchor="center", yanchor="middle"))

legend_font = dict(family=FONT, size=16, color="#222")


def leg(xpx, ypx):
    return dict(x=px_x(xpx), y=px_y(ypx), xanchor="left", yanchor="middle", bgcolor="rgba(0,0,0,0)",
                font=legend_font, borderwidth=0)


fig.update_layout(
    width=W, height=H, margin=dict(l=0, r=0, t=0, b=0, pad=0, autoexpand=False),
    paper_bgcolor="white", plot_bgcolor="white",
    annotations=ann,
    legend=leg(592, 30), legend2=leg(592, 50), legend3=leg(592, 70),
    legend4=leg(195, 286), legend5=leg(195, 305), legend6=leg(195, 324),
    **layout,
)

fig.write_html("out.html")
